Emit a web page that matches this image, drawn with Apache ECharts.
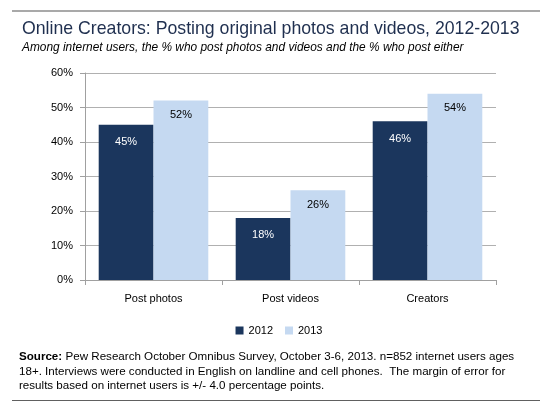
<!DOCTYPE html>
<html><head><meta charset="utf-8">
<script src="https://cdn.jsdelivr.net/npm/echarts@6/dist/echarts.min.js"></script>
<style>html,body{margin:0;padding:0;background:#fff}#c{width:558px;height:404px}</style>
</head><body><div id="c"></div>
<script>
const categories = ['Post photos', 'Post videos', 'Creators'];
const values2012 = [45, 18, 46];
const values2013 = [52, 26, 54];
const seriesNames = ['2012', '2013'];
const yTicks = [0, 10, 20, 30, 40, 50, 60];
const titleText = 'Online Creators: Posting original photos and videos, 2012-2013';
const subtitleText = 'Among internet users, the % who post photos and videos and the % who post either';
const sourceLines = [
  'Pew Research October Omnibus Survey, October 3-6, 2013. n=852 internet users ages',
  '18+. Interviews were conducted in English on landline and cell phones.  The margin of error for',
  'results based on internet users is +/- 4.0 percentage points.'
];
const font = 'Liberation Sans, Arial, sans-serif';
const chart = echarts.init(document.getElementById('c'), null, {renderer: 'canvas'});
chart.setOption({
  animation: false,
  backgroundColor: '#fff',
  grid: {left: 85, right: 62, top: 73, bottom: 124, containLabel: false},
  legend: {
    data: seriesNames, top: 320, left: 'center', itemWidth: 8, itemHeight: 8, itemGap: 12,
    icon: 'rect', textStyle: {fontFamily: font, fontSize: 11, color: '#000'}
  },
  xAxis: {
    type: 'category', data: categories,
    axisLine: {lineStyle: {color: '#a0a0a0'}},
    axisTick: {show: true, length: 5, lineStyle: {color: '#a0a0a0'}},
    axisLabel: {fontFamily: font, fontSize: 11, color: '#000', margin: 13}
  },
  yAxis: {
    type: 'value', min: yTicks[0], max: yTicks[yTicks.length - 1], interval: 10,
    axisLine: {show: true, lineStyle: {color: '#a0a0a0'}},
    axisTick: {show: true, length: 5, lineStyle: {color: '#a0a0a0'}},
    splitLine: {lineStyle: {color: '#b0b0b0'}},
    axisLabel: {fontFamily: font, fontSize: 11, color: '#000', margin: 12, formatter: '{value}%'}
  },
  series: [
    {name: seriesNames[0], type: 'bar', data: values2012, barGap: '0%', barCategoryGap: '20%',
     itemStyle: {color: '#1b365d'},
     label: {show: true, position: 'insideTop', distance: 12, formatter: '{c}%', color: '#fff', fontFamily: font, fontSize: 11}},
    {name: seriesNames[1], type: 'bar', data: values2013, barGap: '0%', barCategoryGap: '20%',
     itemStyle: {color: '#c5d9f1'},
     label: {show: true, position: 'insideTop', distance: 9, formatter: '{c}%', color: '#000', fontFamily: font, fontSize: 11}}
  ],
  graphic: [
    {type: 'line', shape: {x1: 12, y1: 11, x2: 540, y2: 11}, style: {stroke: '#8c8c8c', lineWidth: 1.5}},
    {type: 'text', left: 22, top: 20, style: {text: titleText, fontFamily: font, fontSize: 17.7, fill: '#1f2f4f'}},
    {type: 'text', left: 22, top: 42, style: {text: subtitleText, fontFamily: font, fontSize: 11.9, fontStyle: 'italic', fill: '#000'}},
    {type: 'text', left: 19, top: 351, style: {
      rich: {b: {fontWeight: 'bold', fontFamily: font, fontSize: 11.6, fill: '#000', lineHeight: 14.4},
             n: {fontFamily: font, fontSize: 11.6, fill: '#000', lineHeight: 14.4}},
      text: '{b|Source:} {n|' + sourceLines[0] + '}\n{n|' + sourceLines[1] + '}\n{n|' + sourceLines[2] + '}'}},
    {type: 'line', shape: {x1: 12, y1: 400.5, x2: 540, y2: 400.5}, style: {stroke: '#606060', lineWidth: 1}}
  ]
});
</script></body></html>
